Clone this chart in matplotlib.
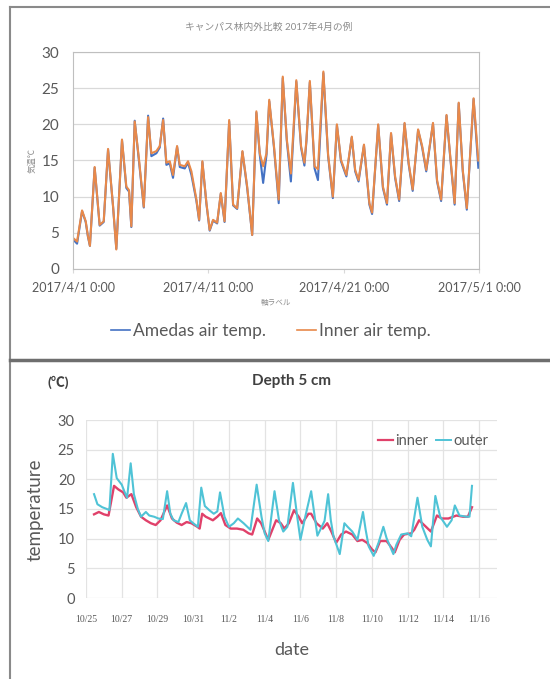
import matplotlib
matplotlib.use('Agg')
import matplotlib.pyplot as plt
from matplotlib.lines import Line2D
import pandas as pd

plt.rcParams['font.family'] = ['Lato', 'Noto Sans CJK JP', 'DejaVu Sans']

# --- top chart: campus forest inside / outside, April 2017 (days from 2017/4/1 0:00)
top_day = [0.0, 0.3, 0.67, 0.94, 1.1, 1.25, 1.6, 1.97, 2.27, 2.59,
           2.96, 3.2, 3.62, 3.94, 4.14, 4.31, 4.56, 4.88, 5.23, 5.55,
           5.79, 6.16, 6.41, 6.66, 6.9, 7.15, 7.39, 7.69, 7.89, 8.26,
           8.5, 8.75, 9.12, 9.32, 9.56, 9.86, 10.1, 10.35, 10.65, 10.92,
           11.2, 11.54, 11.83, 12.13, 12.52, 12.87, 13.24, 13.55, 13.8, 14.05,
           14.3, 14.5, 14.85, 15.2, 15.5, 15.8, 16.1, 16.5, 16.85, 17.1,
           17.25, 17.5, 17.85, 18.1, 18.5, 18.85, 19.2, 19.5, 19.8, 20.2,
           20.6, 20.85, 21.1, 21.5, 21.9, 22.1, 22.55, 22.9, 23.2, 23.5,
           23.8, 24.1, 24.5, 24.8, 25.1, 25.5, 25.8, 26.1, 26.6, 26.9,
           27.2, 27.6, 27.9, 28.2, 28.5, 28.8, 29.1, 29.6, 29.95]
inner_air = [4.3, 3.8, 8.1, 6.6, 4.6, 3.2, 14.1, 6.1, 6.6, 16.6,
             8.7, 2.7, 17.9, 11.4, 10.9, 5.9, 20.4, 15.1, 8.6, 21.0,
             16.0, 16.3, 17.0, 20.6, 14.7, 14.9, 13.0, 17.0, 14.4, 14.2,
             14.9, 13.5, 9.6, 6.8, 14.9, 9.1, 5.4, 6.8, 6.4, 10.5,
             6.6, 20.6, 8.9, 8.4, 16.3, 11.4, 4.7, 21.8, 16.0, 14.2,
             16.0, 23.4, 17.0, 9.6, 26.6, 17.9, 13.2, 26.1, 17.0, 14.7,
             17.9, 26.0, 14.2, 13.8, 27.3, 15.8, 10.0, 20.0, 15.1, 13.0,
             18.3, 13.7, 12.3, 17.2, 9.1, 7.8, 20.0, 11.4, 9.1, 18.8,
             12.8, 9.6, 20.2, 14.7, 11.0, 19.3, 17.0, 13.7, 20.2, 12.3,
             9.6, 21.3, 15.1, 9.1, 23.0, 13.7, 8.4, 23.6, 15.0]
amedas_air = [4.1, 3.5, 8.0, 6.5, 4.5, 3.2, 14.0, 6.0, 6.5, 16.5,
              8.6, 2.8, 17.8, 11.2, 10.7, 5.8, 20.5, 14.8, 8.5, 21.2,
              15.6, 16.0, 16.8, 20.8, 14.4, 14.6, 12.6, 16.9, 14.1, 13.9,
              14.7, 13.0, 9.4, 6.7, 14.8, 9.0, 5.3, 6.7, 6.3, 10.4,
              6.5, 20.4, 8.8, 8.3, 16.2, 11.2, 4.7, 21.6, 15.8, 11.9,
              15.8, 23.2, 16.8, 9.1, 26.4, 17.7, 12.1, 25.9, 16.8, 14.3,
              17.7, 25.8, 13.9, 12.3, 27.1, 15.6, 9.8, 19.9, 14.9, 12.8,
              18.2, 13.5, 12.1, 17.1, 8.9, 7.6, 19.9, 11.2, 8.9, 18.7,
              12.6, 9.4, 20.1, 14.5, 10.8, 19.2, 16.8, 13.5, 20.1, 12.1,
              9.4, 21.2, 14.9, 8.9, 22.9, 13.5, 8.2, 23.5, 14.0]
top_ticks = ['2017/4/1 0:00', '2017/4/11 0:00', '2017/4/21 0:00', '2017/5/1 0:00']
top_tick_days = [0, 10, 20, 30]

# --- bottom chart: soil temperature at 5 cm (days from 10/25)
outer_day = [0.45, 0.64, 0.91, 1.17, 1.31, 1.5, 1.72, 2.0, 2.17, 2.3,
             2.5, 2.68, 2.9, 3.08, 3.35, 3.54, 3.81, 4.05, 4.3, 4.54,
             4.72, 4.9, 5.17, 5.35, 5.6, 5.81, 6.0, 6.26, 6.45, 6.65,
             6.9, 7.15, 7.35, 7.5, 7.75, 8.0, 8.27, 8.5, 8.82, 9.2,
             9.55, 9.82, 10.0, 10.2, 10.55, 10.8, 11.04, 11.27, 11.58, 11.82,
             12.0, 12.27, 12.6, 12.8, 12.95, 13.35, 13.55, 13.7, 13.85, 14.2,
             14.46, 14.64, 14.9, 15.19, 15.3, 15.5, 15.65, 15.82, 16.1, 16.37,
             16.64, 16.82, 17.2, 17.37, 17.64, 18.0, 18.2, 18.55, 18.82, 19.1,
             19.3, 19.55, 19.82, 20.2, 20.46, 20.64, 20.9, 21.28, 21.46, 21.6]
outer_temp = [17.5, 15.8, 15.3, 15.0, 14.8, 24.3, 20.2, 19.1, 17.8, 16.9,
              22.7, 17.5, 15.0, 13.7, 14.5, 13.9, 13.7, 13.4, 13.3, 18.0,
              14.2, 13.1, 12.8, 14.2, 16.0, 13.1, 12.6, 12.0, 18.6, 15.5,
              14.8, 14.2, 14.6, 17.8, 13.7, 12.0, 12.6, 13.4, 12.6, 11.5,
              19.1, 13.7, 10.9, 9.6, 18.0, 13.1, 11.2, 12.0, 19.4, 13.7,
              9.8, 13.7, 18.0, 13.7, 10.5, 13.0, 17.5, 13.1, 10.4, 7.4,
              12.6, 12.0, 11.2, 9.8, 11.5, 14.5, 11.5, 8.7, 7.1, 9.3,
              12.0, 10.1, 7.4, 9.0, 10.7, 10.9, 10.4, 16.9, 12.0, 9.8,
              8.7, 17.2, 13.7, 12.0, 13.1, 15.6, 13.9, 13.7, 13.7, 18.9]
inner_day = [0.45, 0.72, 1.0, 1.26, 1.57, 1.81, 2.08, 2.26, 2.54, 2.81,
             3.08, 3.35, 3.63, 3.9, 4.17, 4.54, 4.81, 5.08, 5.35, 5.63,
             5.9, 6.23, 6.36, 6.5, 6.7, 6.9, 7.1, 7.35, 7.55, 7.8,
             8.1, 8.45, 8.8, 9.1, 9.3, 9.58, 9.8, 10.0, 10.2, 10.64,
             10.9, 11.1, 11.35, 11.64, 11.9, 12.1, 12.45, 12.6, 12.9, 13.25,
             13.5, 13.73, 14.0, 14.28, 14.55, 14.9, 15.19, 15.46, 15.73, 16.0,
             16.2, 16.46, 16.82, 17.1, 17.28, 17.55, 17.8, 18.2, 18.37, 18.64,
             18.92, 19.3, 19.64, 19.9, 20.28, 20.73, 21.1, 21.37, 21.6]
inner_temp = [14.1, 14.5, 14.1, 13.9, 18.9, 18.3, 17.8, 16.9, 17.5, 15.3,
              13.7, 13.1, 12.6, 12.3, 13.1, 15.6, 13.4, 12.7, 12.3, 12.8,
              12.6, 12.0, 11.7, 14.2, 13.7, 13.4, 13.1, 13.7, 14.3, 12.3,
              11.7, 11.7, 11.5, 10.9, 10.7, 13.4, 12.6, 11.2, 9.8, 13.1,
              12.6, 11.7, 12.6, 14.8, 13.7, 12.6, 14.2, 14.2, 12.6, 11.7,
              12.6, 11.2, 9.3, 10.7, 11.2, 10.7, 9.6, 9.8, 9.3, 8.2,
              7.7, 9.6, 9.6, 8.5, 7.7, 9.8, 10.7, 10.9, 11.5, 13.1,
              12.3, 11.2, 13.9, 13.4, 13.4, 13.9, 13.7, 13.7, 15.3]
bottom_ticks = ['10/25', '10/27', '10/29', '10/31', '11/2', '11/4',
                '11/6', '11/8', '11/10', '11/12', '11/14', '11/16']

W, H = 550, 679
fig = plt.figure(figsize=(W / 100, H / 100), dpi=100)


def fx(px):
    return px / W


def fy(py):
    return 1 - py / H


txt = '#595959'
blue, orange = '#4472C4', '#E8894A'
red, cyan = '#E0416A', '#4FC3D6'

# ---------------- top chart
ax1 = fig.add_axes([fx(73), fy(269), fx(479) - fx(73), fy(52) - fy(269)])
start = pd.Timestamp('2017-04-01')
t = start + pd.to_timedelta(top_day, unit='D')
ax1.plot(t, amedas_air, color=blue, lw=1.5)
ax1.plot(t, inner_air, color=orange, lw=1.5)
ax1.set_ylim(0, 30)
ax1.set_yticks(range(0, 31, 5))
ax1.set_xlim(start, start + pd.Timedelta(days=30))
ax1.set_xticks(start + pd.to_timedelta(top_tick_days, unit='D'))
ax1.set_xticklabels(top_ticks)
ax1.grid(axis='y', color='#D9D9D9', lw=0.9)
ax1.set_axisbelow(True)
for s in ax1.spines.values():
    s.set_color('#BFBFBF')
ax1.tick_params(axis='y', length=0, labelsize=11, labelcolor=txt, pad=10)
ax1.tick_params(axis='x', length=3, color='#D9D9D9', labelsize=9, labelcolor=txt, pad=6)
ax1.set_ylabel('気温℃', fontsize=6, color='#8c8c8c', labelpad=4)
ax1.set_xlabel('軸ラベル', fontsize=5.5, color='#8c8c8c', labelpad=4)
fig.text(fx(269), fy(27), 'キャンパス林内外比較 2017年4月の例', fontsize=7,
         color='#8c8c8c', ha='center', va='center')
top_handles = [Line2D([], [], color=blue, lw=1.2), Line2D([], [], color=orange, lw=1.2)]
fig.legend(top_handles, ['Amedas air temp.', 'Inner air temp.'], loc='center',
           bbox_to_anchor=(fx(271), fy(331)), ncol=2, frameon=False, fontsize=12.5,
           labelcolor=txt, handlelength=1.1, handletextpad=0.15, columnspacing=1.8)

# ---------------- bottom chart
ax2 = fig.add_axes([fx(86), fy(598), fx(497) - fx(86), fy(420) - fy(598)])
ax2.plot(inner_day, inner_temp, color=red, lw=1.7)
ax2.plot(outer_day, outer_temp, color=cyan, lw=1.5)
ax2.set_xlim(0, 23)
ax2.set_ylim(0, 30)
ax2.set_xticks(range(0, 23, 2))
ax2.set_xticklabels(bottom_ticks, fontfamily=['Liberation Serif'], fontsize=7)
ax2.set_yticks(range(0, 31, 5))
ax2.grid(color='#E3E3E3', lw=0.9)
ax2.set_axisbelow(True)
for s in ax2.spines.values():
    s.set_visible(False)
ax2.tick_params(length=0, labelcolor=txt)
ax2.tick_params(axis='y', labelsize=10.5, pad=8)
ax2.tick_params(axis='x', pad=12)
bottom_handles = [Line2D([], [], color=red, lw=1.6), Line2D([], [], color=cyan, lw=1.4)]
ax2.legend(bottom_handles, ['inner', 'outer'], loc='upper right',
           bbox_to_anchor=(1.0, 0.97), ncol=2, frameon=False, fontsize=10.5,
           labelcolor=txt, handlelength=1.0, handletextpad=0.15,
           columnspacing=0.6, borderaxespad=0.2)
fig.text(fx(58), fy(382), '(℃)', fontsize=10, color='#404040', ha='center',
         va='center', fontweight='bold')
fig.text(fx(292), fy(381), 'Depth 5 cm', fontsize=11, color='#404040', ha='center',
         va='center', fontweight='bold')
fig.text(fx(35), fy(510), 'temperature', fontsize=13.5, color=txt, ha='center',
         va='center', rotation=90)
fig.text(fx(292), fy(650), 'date', fontsize=13, color=txt, ha='center', va='center')

# ---------------- frames of the two pasted charts
frame = '#8a8a8a'
fig.add_artist(Line2D([fx(10), 1], [fy(7), fy(7)], color=frame, lw=1.5))
fig.add_artist(Line2D([fx(10), fx(10)], [fy(7), 0], color=frame, lw=1.5))
fig.add_artist(Line2D([fx(10), 1], [fy(360), fy(360)], color='#6e6e6e', lw=2.5))

fig.savefig('out.png', dpi=100)
